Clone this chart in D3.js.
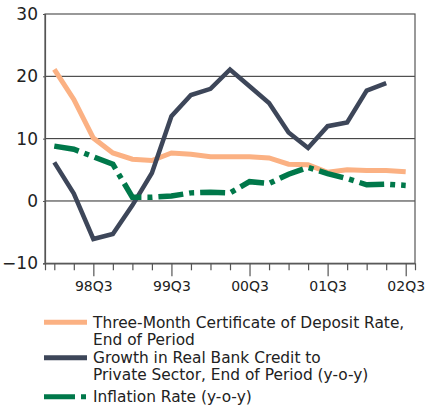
<!DOCTYPE html>
<html>
<head>
<meta charset="utf-8">
<script src="https://cdn.jsdelivr.net/npm/d3@7"></script>
<style>
  html, body { margin: 0; padding: 0; background: #fff; }
  svg { display: block; font-family: "DejaVu Sans", Verdana, sans-serif; }
</style>
</head>
<body>
<svg id="chart" width="433" height="408"></svg>
<script>
// Quarterly periods, 1998 Q1 through 2002 Q3
const quarters = ["98Q1","98Q2","98Q3","98Q4","99Q1","99Q2","99Q3","99Q4",
                  "00Q1","00Q2","00Q3","00Q4","01Q1","01Q2","01Q3","01Q4",
                  "02Q1","02Q2","02Q3"];
const labelledQuarters = ["98Q3","99Q3","00Q3","01Q3","02Q3"];
const yTicks = [-10, 0, 10, 20, 30];

// Three-month CD rate, end of period (%)
const cdRate = [21.1, 16.3, 10.1, 7.7, 6.7, 6.5, 7.7, 7.5, 7.1, 7.1,
                7.1, 6.9, 5.9, 5.8, 4.6, 5.0, 4.9, 4.9, 4.7];
// Real bank credit to private sector, y-o-y growth (%)
const creditGrowth = [6.2, 1.2, -6.1, -5.3, -0.7, 4.5, 13.6, 17.0, 18.0, 21.1,
                      18.4, 15.7, 11.0, 8.5, 12.0, 12.6, 17.7, 18.9];
// Inflation, y-o-y (%)
const inflation = [8.8, 8.3, 7.1, 5.9, 0.6, 0.6, 0.8, 1.3, 1.4, 1.3,
                   3.1, 2.8, 4.3, 5.4, 4.4, 3.6, 2.6, 2.7, 2.5];

const seriesList = [
  { name: ["Three-Month Certificate of Deposit Rate,", "End of Period"],
    values: cdRate, color: "#fbb183", width: 5, dash: null, legendDash: null },
  { name: ["Growth in Real Bank Credit to", "Private Sector, End of Period (y-o-y)"],
    values: creditGrowth, color: "#3d4659", width: 4.5, dash: null, legendDash: null },
  { name: ["Inflation Rate (y-o-y)"],
    values: inflation, color: "#00784a", width: 5.5, dash: "25,6,5,6", legendDash: "31,6,5,6" }
];

const svg = d3.select("#chart");
const plot = { left: 45, right: 415, top: 14, bottom: 263.3 };

const x = d3.scalePoint().domain(quarters).range([plot.left, plot.right]).padding(0.476);
const y = d3.scaleLinear().domain([-10, 30]).range([plot.bottom, plot.top]);

// Horizontal gridlines
svg.append("g").selectAll("line")
  .data([0, 10, 20])
  .join("line")
  .attr("x1", plot.left).attr("x2", plot.right)
  .attr("y1", d => y(d)).attr("y2", d => y(d))
  .attr("stroke", "#2a2a2a").attr("stroke-width", 1);

// Frame
svg.append("rect")
  .attr("x", plot.left).attr("y", plot.top)
  .attr("width", plot.right - plot.left).attr("height", plot.bottom - plot.top)
  .attr("fill", "none").attr("stroke", "#555").attr("stroke-width", 1.2);

// Y axis
const yAxis = svg.append("g")
  .attr("transform", `translate(${plot.left},0)`)
  .call(d3.axisLeft(y).tickValues(yTicks).tickSize(2).tickPadding(5).tickFormat(d3.format("d")));
yAxis.select(".domain").attr("stroke", "#555").attr("stroke-width", 1.2);
yAxis.selectAll(".tick line").attr("stroke", "#555");
yAxis.selectAll(".tick text")
  .attr("font-size", 17).attr("fill", "#222")
  .attr("font-family", "DejaVu Sans, Verdana, sans-serif");

// X axis: short tick each quarter, long tick with label at Q3
const xAxis = svg.append("g")
  .attr("transform", `translate(0,${plot.bottom})`)
  .call(d3.axisBottom(x).tickSize(7).tickPadding(0)
        .tickFormat(d => labelledQuarters.includes(d) ? d : ""));
xAxis.select(".domain").attr("stroke", "#555").attr("stroke-width", 1.2);
xAxis.selectAll(".tick line")
  .attr("stroke", "#555").attr("stroke-width", 1.2)
  .attr("y2", d => labelledQuarters.includes(d) ? 13 : 7);
xAxis.selectAll(".tick text")
  .attr("y", 18).attr("dy", "0.71em")
  .attr("font-size", 14).attr("fill", "#222")
  .attr("font-family", "DejaVu Sans, Verdana, sans-serif");

// Series lines
const line = d3.line()
  .x((d, i) => x(quarters[i]))
  .y(d => y(d));

seriesList.forEach(s => {
  svg.append("path")
    .datum(s.values)
    .attr("d", line)
    .attr("fill", "none")
    .attr("stroke", s.color)
    .attr("stroke-width", s.width)
    .attr("stroke-linejoin", "miter")
    .attr("stroke-dasharray", s.dash);
});

// Legend
const legendRows = [322.2, 357.8, 396.7];
const legend = svg.append("g");
seriesList.forEach((s, i) => {
  const g = legend.append("g").attr("transform", `translate(0,${legendRows[i]})`);
  g.append("line")
    .attr("x1", 44).attr("x2", 87)
    .attr("stroke", s.color).attr("stroke-width", 5)
    .attr("stroke-dasharray", s.legendDash);
  const t = g.append("text")
    .attr("x", 93).attr("y", 0)
    .attr("font-size", 15.4).attr("fill", "#222");
  s.name.forEach((ln, j) => {
    t.append("tspan").attr("x", 93).attr("dy", j === 0 ? "0.36em" : 16.8).text(ln);
  });
});
</script>
</body>
</html>
